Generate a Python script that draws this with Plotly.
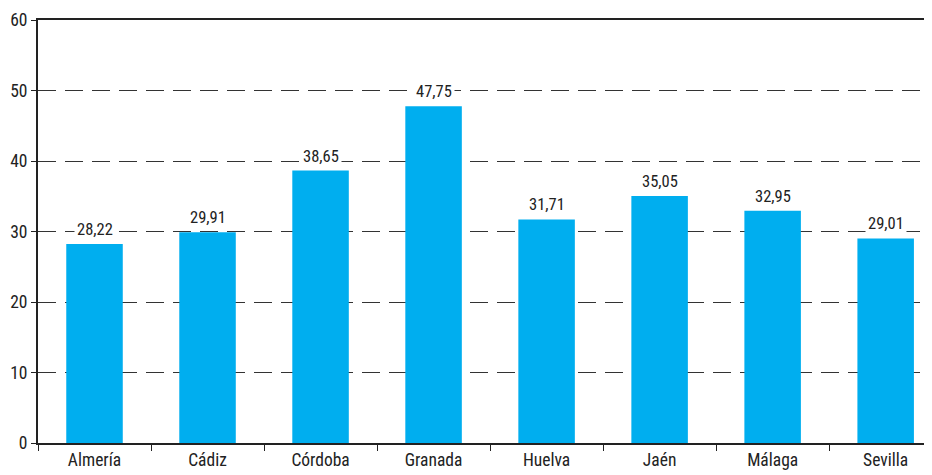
import plotly.graph_objects as go

# --- Data ---
provincias = ["Almería", "Cádiz", "Córdoba", "Granada", "Huelva", "Jaén", "Málaga", "Sevilla"]
valores = [28.22, 29.91, 38.65, 47.75, 31.71, 35.05, 32.95, 29.01]

y_ticks = [0, 10, 20, 30, 40, 50, 60]

FONT = "Liberation Sans Narrow, Arial Narrow, Roboto Condensed, Liberation Sans, sans-serif"
AZUL = "#00aeef"

fig = go.Figure(go.Bar(
    x=provincias,
    y=valores,
    marker=dict(color=AZUL, line=dict(width=0)),
    width=0.5,
    hoverinfo="skip",
))

# value labels with white box so the dashed grid is broken behind them
for p, v in zip(provincias, valores):
    fig.add_annotation(
        x=p, y=v,
        text=f"{v:.2f}".replace(".", ","),
        showarrow=False,
        yanchor="bottom",
        yshift=2,
        bgcolor="white",
        borderpad=2,
        font=dict(family=FONT, size=16.5, color="#222"),
    )

# page body has an 8px margin, so the figure is a bit smaller than the window
fig.update_layout(
    width=924, height=467,
    margin=dict(l=30, r=0, t=12, b=32),
    paper_bgcolor="white",
    plot_bgcolor="white",
    showlegend=False,
    font=dict(family=FONT, size=16, color="#222"),
)

fig.update_xaxes(
    type="category",
    range=[-0.5, 7.41],
    automargin=False,
    showline=True, linecolor="#222", linewidth=2,
    mirror=True,
    ticks="outside", ticklen=6, tickcolor="#222", tickwidth=1,
    tickson="boundaries",
    showgrid=False,
    tickfont=dict(family=FONT, size=17.5, color="#222"),
)

fig.update_yaxes(
    range=[0, 60],
    tickvals=y_ticks,
    automargin=False,
    showline=True, linecolor="#222", linewidth=2,
    ticks="outside", ticklen=5, tickcolor="#222", tickwidth=1,
    showgrid=True, gridcolor="#333", gridwidth=1, griddash="18px,9px",
    zeroline=False,
    tickfont=dict(family=FONT, size=17.5, color="#222"),
)

fig.write_html("out.html")
